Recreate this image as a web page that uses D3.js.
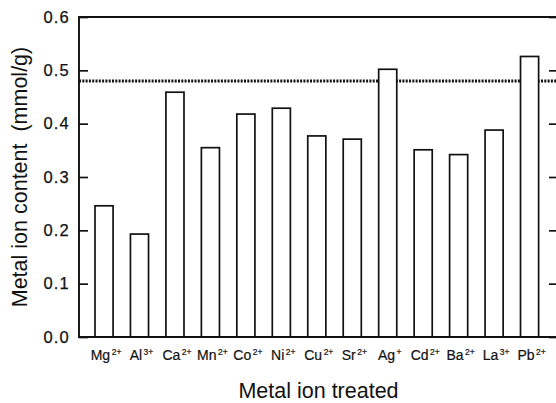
<!DOCTYPE html>
<html>
<head>
<meta charset="utf-8">
<script src="https://cdn.jsdelivr.net/npm/d3@7"></script>
<style>
  html, body { margin: 0; padding: 0; background: #fff; }
  svg { display: block; font-family: "Liberation Sans", Arial, Helvetica, sans-serif; }
</style>
</head>
<body>
<svg id="chart" width="556" height="403"></svg>
<script>
// Metal ion uptake per treatment
const ions    = ["Mg", "Al", "Ca", "Mn", "Co", "Ni", "Cu", "Sr", "Ag", "Cd", "Ba", "La", "Pb"];
const charges = ["2+", "3+", "2+", "2+", "2+", "2+", "2+", "2+", "+", "2+", "2+", "3+", "2+"];
const content = [0.246, 0.193, 0.459, 0.355, 0.418, 0.429, 0.377, 0.371, 0.502, 0.351, 0.342, 0.388, 0.526];
const yTicks  = [0.0, 0.1, 0.2, 0.3, 0.4, 0.5, 0.6];
const reference = 0.48;   // dotted reference level

const svg = d3.select("#chart");
const plotLeft = 79, plotRight = 558, plotTop = 17, plotBottom = 337;

const x = d3.scaleBand()
  .domain(ions)
  .range([86.3, 547.3])
  .paddingInner(0.49)
  .paddingOuter(0.245);

const y = d3.scaleLinear().domain([0, 0.6]).range([plotBottom, plotTop]);

// reference line (drawn first so bars above it cover it)
svg.append("line")
  .attr("x1", plotLeft).attr("x2", plotRight)
  .attr("y1", y(reference)).attr("y2", y(reference))
  .attr("stroke", "#111").attr("stroke-width", 2.8)
  .attr("stroke-dasharray", "2,1.3");

// bars
svg.append("g").selectAll("rect")
  .data(ions)
  .join("rect")
  .attr("x", d => x(d))
  .attr("width", x.bandwidth())
  .attr("y", (d, i) => y(content[i]))
  .attr("height", (d, i) => plotBottom - y(content[i]))
  .attr("fill", "#fff")
  .attr("stroke", "#111")
  .attr("stroke-width", 1.7);

// left axis, ticks pointing inward
const yAxis = svg.append("g")
  .attr("transform", `translate(${plotLeft},0)`)
  .call(d3.axisLeft(y).tickValues(yTicks).tickFormat(d3.format(".1f")).tickSize(-9).tickPadding(9));
yAxis.select(".domain").remove();
yAxis.selectAll(".tick line").attr("stroke", "#111").attr("stroke-width", 1.7);
yAxis.selectAll(".tick text")
  .attr("font-size", 16.5).attr("fill", "#111")
  .attr("letter-spacing", 1.2)
  .attr("stroke", "#111").attr("stroke-width", 0.25)
  .attr("font-family", "'Liberation Sans', Arial, sans-serif");

// right axis, ticks only
const yAxisR = svg.append("g")
  .attr("transform", `translate(${plotRight},0)`)
  .call(d3.axisRight(y).tickValues(yTicks).tickFormat("").tickSize(-9));
yAxisR.select(".domain").remove();
yAxisR.selectAll(".tick line").attr("stroke", "#111").attr("stroke-width", 1.7);

// frame
svg.append("path")
  .attr("d", `M${plotRight},${plotTop}H${plotLeft}V${plotBottom}H${plotRight}`)
  .attr("fill", "none").attr("stroke", "#111").attr("stroke-width", 1.9);

// category labels with charge superscripts
const xAxis = svg.append("g")
  .attr("transform", `translate(0,${plotBottom})`)
  .call(d3.axisBottom(x).tickSize(0).tickPadding(23));
xAxis.select(".domain").remove();
xAxis.selectAll(".tick text").each(function(d, i) {
  const t = d3.select(this)
    .text(null)
    .attr("font-size", 14)
    .attr("fill", "#111")
    .attr("stroke", "#111").attr("stroke-width", 0.2)
    .attr("font-family", "'Liberation Sans', Arial, sans-serif")
    .attr("text-anchor", "middle")
    .attr("dy", 0)
    .attr("dx", 2);
  t.append("tspan").text(d);
  t.append("tspan").text(charges[i])
    .attr("font-size", 8.5)
    .attr("dy", -5.5)
    .attr("dx", 1.5);
});

// axis titles
svg.append("text")
  .attr("x", (plotLeft + plotRight) / 2)
  .attr("y", 398)
  .attr("text-anchor", "middle")
  .attr("font-size", 21.5)
  .attr("fill", "#111")
  .text("Metal ion treated");

svg.append("text")
  .attr("transform", `translate(27,${(plotTop + plotBottom) / 2}) rotate(-90)`)
  .attr("text-anchor", "middle")
  .attr("font-size", 21.5)
  .attr("fill", "#111")
  .attr("xml:space", "preserve")
  .style("white-space", "pre")
  .text("Metal ion content  (mmol/g)");
</script>
</body>
</html>
